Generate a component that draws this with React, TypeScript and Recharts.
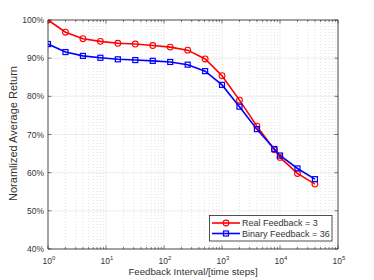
import React from 'react';
import { LineChart, Line, XAxis, YAxis, CartesianGrid, Legend, Label } from 'recharts';

const intervals = [1, 2, 4, 8, 16, 32, 64, 128, 256, 512, 1000, 2000, 4000, 8000, 10000, 20000, 40000];
const realFeedback = [100, 96.8, 95.1, 94.4, 93.9, 93.7, 93.3, 92.9, 92.1, 89.8, 85.4, 79.0, 72.2, 66.0, 64.0, 59.8, 57.0];
const binaryFeedback = [93.7, 91.6, 90.6, 90.1, 89.7, 89.5, 89.3, 89.0, 88.3, 86.6, 83.0, 77.3, 71.4, 66.2, 64.5, 61.1, 58.3];
const xMajorTicks = [1, 10, 100, 1000, 10000, 100000];
const xExponents = ['0', '1', '2', '3', '4', '5'];
const yTicks = [40, 50, 60, 70, 80, 90, 100];
const seriesNames = ['Real Feedback = 3', 'Binary Feedback = 36'];
const seriesColors = ['#ff0000', '#0000ff'];
const xLabel = 'Feedback Interval/[time steps]';
const yLabel = 'Noramlized Average Return';

const xMinorTicks: number[] = [];
xMajorTicks.slice(0, -1).forEach((d) => {
  for (let m = 2; m <= 9; m++) xMinorTicks.push(d * m);
});
const xAllTicks = [...xMajorTicks, ...xMinorTicks].sort((a, b) => a - b);

const data = intervals.map((x, i) => ({ x, real: realFeedback[i], binary: binaryFeedback[i] }));

const AX = '#262626';
const TXT = '#333333';
const FONT = '"Liberation Sans", Arial, sans-serif';

const BottomTick = (props: any) => {
  const { x, y, payload } = props;
  const idx = xMajorTicks.indexOf(payload.value);
  const major = idx >= 0;
  return (
    <g>
      <line x1={x} x2={x} y1={y} y2={y - (major ? 3.5 : 2)} stroke={AX} strokeWidth={0.6} />
      {major && (
        <text x={x + 1} y={y + 15} textAnchor="middle" fill={TXT} fontSize={8.5} fontFamily={FONT}>
          10<tspan dy={-4} fontSize={6}>{xExponents[idx]}</tspan>
        </text>
      )}
    </g>
  );
};

const TopTick = (props: any) => {
  const { x, y, payload } = props;
  const major = xMajorTicks.indexOf(payload.value) >= 0;
  return <line x1={x} x2={x} y1={y} y2={y + (major ? 3.5 : 2)} stroke={AX} strokeWidth={0.6} />;
};

const LeftTick = (props: any) => {
  const { x, y, payload } = props;
  return (
    <g>
      <line x1={x} x2={x + 3.5} y1={y} y2={y} stroke={AX} strokeWidth={0.6} />
      <text x={x - 4} y={y + 3} textAnchor="end" fill={TXT} fontSize={8.5} fontFamily={FONT}>
        {payload.value}%
      </text>
    </g>
  );
};

const RightTick = (props: any) => {
  const { x, y } = props;
  return <line x1={x} x2={x - 3.5} y1={y} y2={y} stroke={AX} strokeWidth={0.6} />;
};

const CircleDot = (props: any) => {
  const { cx, cy } = props;
  if (cx == null || cy == null) return null;
  return <circle cx={cx} cy={cy} r={2.9} fill="none" stroke={seriesColors[0]} strokeWidth={1.1} />;
};

const SquareDot = (props: any) => {
  const { cx, cy } = props;
  if (cx == null || cy == null) return null;
  return <rect x={cx - 2.5} y={cy - 2.5} width={5} height={5} fill="none" stroke={seriesColors[1]} strokeWidth={1.2} />;
};

const LegendBox = () => (
  <svg width={124} height={27} style={{ display: 'block' }}>
    <rect x={0.5} y={0.5} width={122.5} height={25.5} fill="#ffffff" stroke={AX} strokeWidth={0.8} />
    {seriesNames.map((name, i) => {
      const cy = 8 + i * 10.5;
      return (
        <g key={name}>
          <line x1={3} x2={31} y1={cy} y2={cy} stroke={seriesColors[i]} strokeWidth={1.6} />
          {i === 0 ? (
            <circle cx={17} cy={cy} r={2.9} fill="none" stroke={seriesColors[i]} strokeWidth={1.1} />
          ) : (
            <rect x={14.5} y={cy - 2.5} width={5} height={5} fill="none" stroke={seriesColors[i]} strokeWidth={1.2} />
          )}
          <text x={33} y={cy + 3.2} fill={TXT} fontSize={9} fontFamily={FONT}>
            {name}
          </text>
        </g>
      );
    })}
  </svg>
);

export default function App() {
  return (
    <div style={{ position: 'absolute', left: 0, top: 0, width: 374, height: 280, background: '#fff' }}>
      <LineChart
        width={374}
        height={280}
        data={data}
        margin={{ top: 19, right: 35, bottom: 30, left: 47 }}
        style={{ fontFamily: FONT }}
      >
        <CartesianGrid stroke="#e3e3e3" strokeWidth={0.6} horizontal vertical verticalValues={xMajorTicks} horizontalValues={yTicks} />
        <CartesianGrid stroke="#cfcfcf" strokeWidth={0.6} strokeDasharray="1 2" horizontal={false} vertical verticalValues={xMinorTicks} />
        <XAxis
          dataKey="x"
          type="number"
          scale="log"
          domain={[1, 100000]}
          allowDataOverflow
          ticks={xAllTicks}
          interval={0}
          height={1}
          tickSize={0}
          tickMargin={0}
          tickLine={false}
          tick={<BottomTick />}
          axisLine={{ stroke: AX, strokeWidth: 0.8 }}
        >
          <Label value={xLabel} position="bottom" offset={18} fill={TXT} fontSize={9.7} fontFamily={FONT} />
        </XAxis>
        <XAxis
          xAxisId="top"
          orientation="top"
          dataKey="x"
          type="number"
          scale="log"
          domain={[1, 100000]}
          allowDataOverflow
          ticks={xAllTicks}
          interval={0}
          height={1}
          tickSize={0}
          tickMargin={0}
          tickLine={false}
          tick={<TopTick />}
          axisLine={{ stroke: AX, strokeWidth: 0.8 }}
        />
        <YAxis
          type="number"
          domain={[40, 100]}
          allowDataOverflow
          ticks={yTicks}
          interval={0}
          width={1}
          tickSize={0}
          tickMargin={0}
          tickLine={false}
          tick={<LeftTick />}
          axisLine={{ stroke: AX, strokeWidth: 0.8 }}
        >
          <Label
            content={(p: any) => {
              const vb = p.viewBox || { x: 47, y: 20, width: 1, height: 229 };
              const cx = vb.x + (vb.width || 0) - 35;
              const cy = vb.y + vb.height / 2 - 1;
              return (
                <text x={cx} y={cy} transform={`rotate(-90 ${cx} ${cy})`} textAnchor="middle" dominantBaseline="central" fill={TXT} fontSize={11} fontFamily={FONT}>
                  {yLabel}
                </text>
              );
            }}
          />
        </YAxis>
        <YAxis
          yAxisId="right"
          orientation="right"
          type="number"
          domain={[40, 100]}
          allowDataOverflow
          ticks={yTicks}
          interval={0}
          width={1}
          tickSize={0}
          tickMargin={0}
          tickLine={false}
          tick={<RightTick />}
          axisLine={{ stroke: AX, strokeWidth: 0.8 }}
        />
        <Line
          dataKey="real"
          name={seriesNames[0]}
          stroke={seriesColors[0]}
          strokeWidth={1.6}
          dot={<CircleDot />}
          activeDot={false}
          isAnimationActive={false}
        />
        <Line
          dataKey="binary"
          name={seriesNames[1]}
          stroke={seriesColors[1]}
          strokeWidth={1.6}
          dot={<SquareDot />}
          activeDot={false}
          isAnimationActive={false}
        />
        <Legend
          layout="vertical"
          align="center"
          verticalAlign="middle"
          content={() => <LegendBox />}
          wrapperStyle={{ left: 209, top: 215, width: 124, height: 27 }}
        />
      </LineChart>
    </div>
  );
}
